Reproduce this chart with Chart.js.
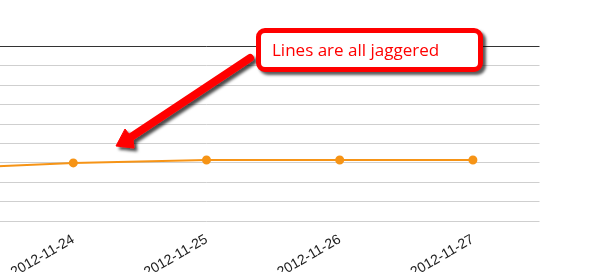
<!DOCTYPE html>
<html>
<head>
<meta charset="utf-8">
<script src="https://cdn.jsdelivr.net/npm/chart.js@4"></script>
<style>
  html, body { margin: 0; padding: 0; background: #fff; overflow: hidden; width: 599px; height: 272px; }
  #wrap { position: absolute; left: -132px; top: 41px; width: 677px; height: 250px; }
  #note {
    position: absolute; left: 256px; top: 28px; width: 206px; height: 34px;
    border: 5px solid #ff0000; border-radius: 9px; background: #fff;
    box-shadow: 3px 3px 3px rgba(0,0,0,0.65);
    font-family: "Open Sans", "Noto Sans", sans-serif; font-size: 17px; color: #ff0000;
    line-height: 34px; padding-left: 11px; box-sizing: content-box; white-space: nowrap;
  }
  #arrow { position: absolute; left: 0; top: 0; }
</style>
</head>
<body>
<div id="wrap"><canvas id="chart"></canvas></div>
<svg id="arrow" width="599" height="272">
  <defs>
    <filter id="sh" x="-20%" y="-20%" width="150%" height="150%">
      <feDropShadow dx="3" dy="3" stdDeviation="1.5" flood-color="#000" flood-opacity="0.7"/>
    </filter>
  </defs>
  <g filter="url(#sh)" fill="#ff0000" stroke="#ff0000">
    <line x1="250" y1="58" x2="128" y2="139" stroke-width="8" stroke-linecap="round"/>
    <polygon points="116,146 125,129 133,139 134,148" stroke-width="1"/>
  </g>
</svg>
<div id="note">Lines are all jaggered</div>
<script>
const dates = ['2012-11-23', '2012-11-24', '2012-11-25', '2012-11-26', '2012-11-27'];
const visits = [2.7, 3.0, 3.15, 3.15, 3.15];
const yMin = 0;
const yMax = 9;

document.addEventListener('DOMContentLoaded', () => {
    const ctx = document.getElementById('chart').getContext('2d');
    new Chart(ctx, {
        type: 'line',
        data: {
            labels: dates,
            datasets: [{
                label: 'Visits',
                data: visits,
                borderColor: 'rgb(246, 148, 22)',
                backgroundColor: 'rgb(246, 148, 22)',
                borderWidth: 2,
                pointRadius: 3.5,
                pointHoverRadius: 3.5,
                tension: 0
            }]
        },
        options: {
            responsive: true,
            maintainAspectRatio: false,
            animation: false,
            layout: { padding: 0 },
            plugins: {
                legend: { display: false },
                tooltip: { enabled: false }
            },
            scales: {
                x: {
                    offset: true,
                    grid: { display: false, drawTicks: false },
                    border: { display: false },
                    ticks: {
                        minRotation: 30,
                        maxRotation: 30,
                        padding: 10,
                        color: '#222',
                        font: { family: 'Liberation Sans', size: 14 }
                    }
                },
                y: {
                    min: yMin,
                    max: yMax,
                    ticks: { display: false, stepSize: 1 },
                    border: { display: false },
                    grid: {
                        drawTicks: false,
                        lineWidth: 1,
                        color: c => (c.tick && c.tick.value === yMax) ? '#333' : '#cfcfcf'
                    }
                }
            }
        }
    });
});
</script>
</body>
</html>
